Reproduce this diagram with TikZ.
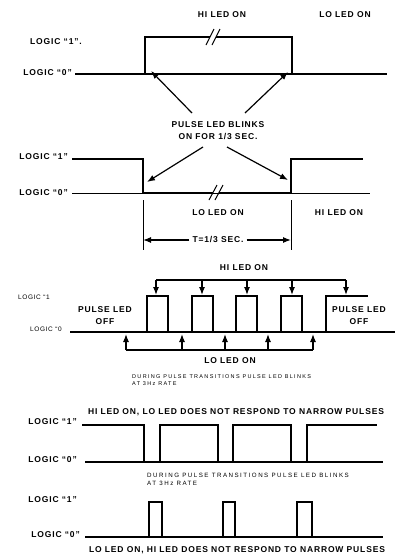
\documentclass[tikz,border=0pt]{standalone}
\usepackage{fontspec}
\newfontfamily\capfont{Liberation Sans}[LetterSpace=10]
\newfontfamily\notefont{Liberation Sans}[LetterSpace=24]
\usetikzlibrary{arrows.meta}
\tikzset{
  lbl/.style={font=\capfont\bfseries\fontsize{8.5}{12}\selectfont,inner sep=0pt,align=center},
  faint/.style={font=\capfont\fontsize{6.5}{8}\selectfont,inner sep=0pt},
  note/.style={font=\notefont\fontsize{5.5}{7.5}\selectfont,inner sep=0pt,align=left},
  wave/.style={line width=1.5pt},
  base/.style={line width=0.7pt},
  ext/.style={line width=0.7pt},
  brk/.style={line width=1pt},
  bracket/.style={line width=1.1pt},
  arrow/.style={-{Latex[length=8pt,width=6pt]},line width=1.2pt}
}
\begin{document}
\begin{tikzpicture}[x=1pt,y=-1pt]
\useasboundingbox (0,0) rectangle (403,557);
% first trace: single long pulse high
\node[lbl] (hi1) at (222,15) {HI LED ON};
\node[lbl] (lo1) at (345,15) {LO LED ON};
\node[lbl,anchor=east] (one1) at (82,42) {LOGIC “1”.};
\node[lbl,anchor=east] (zero1) at (72,73) {LOGIC “0”};
\draw[wave] (75,74) -- (387,74);
\draw[wave] (145,74) -- (145,37) -- (210,37);
\draw[wave] (216,37) -- (292,37) -- (292,74);
\draw[brk] (206,45) -- (214,29) (212,45) -- (220,29);
\coordinate (rise1) at (151,71);
\coordinate (fall1) at (288,72);
\node[lbl] (blink) at (218,131) {PULSE LED BLINKS\\ON FOR 1/3 SEC.};
\coordinate (blinkup1) at (192,113);
\coordinate (blinkup2) at (245,113);
\coordinate (blinkdn1) at (203,147);
\coordinate (blinkdn2) at (227,147);
\draw[arrow] (blinkup1) -- (rise1);
\draw[arrow] (blinkup2) -- (fall1);
% second trace: single long pulse low
\node[lbl,anchor=east] (one2) at (68,157) {LOGIC “1”};
\node[lbl,anchor=east] (zero2) at (68,193) {LOGIC “0”};
\draw[base] (72,193) -- (370,193);
\draw[wave] (72,159) -- (143,159) -- (143,193) -- (213,193);
\draw[wave] (219,193) -- (291,193) -- (291,159) -- (363,159);
\draw[brk] (209,200) -- (217,185) (215,200) -- (223,185);
\coordinate (fall2) at (147,182);
\coordinate (rise2) at (288,180);
\draw[arrow] (blinkdn1) -- (fall2);
\draw[arrow] (blinkdn2) -- (rise2);
\draw[ext] (143,200) -- (143,250);
\draw[ext] (291,200) -- (291,250);
\node[lbl] (lo2) at (218,213) {LO LED ON};
\node[lbl] (hi2) at (339,213) {HI LED ON};
\coordinate (tleft) at (143,240);
\coordinate (tright) at (291,240);
\node[lbl,inner xsep=3pt] (period) at (218,240) {T=1/3 SEC.};
\draw[arrow] (period) -- (tleft);
\draw[arrow] (period) -- (tright);
% third trace: pulse train
\node[lbl] (hi3) at (244,268) {HI LED ON};
\draw[bracket] (156,280) -- (346,280);
\foreach \x in {156,202,247,292,346}
  \draw[arrow] (\x,280) -- (\x,295);
\node[faint,anchor=east] (one3) at (50,297) {LOGIC “1};
\node[faint,anchor=east] (zero3) at (62,329) {LOGIC “0};
\draw[wave] (70,332) -- (395,332);
\foreach \a/\b in {147/168,192/213,236/257,281/302}
  \draw[wave] (\a,332) -- (\a,296) -- (\b,296) -- (\b,332);
\draw[wave] (326,332) -- (326,296) -- (368,296);
\node[lbl] (off1) at (105,316) {PULSE LED\\OFF};
\node[lbl] (off2) at (359,316) {PULSE LED\\OFF};
\draw[bracket] (126,350) -- (313,350);
\foreach \x in {126,182,225,268,313}
  \draw[arrow] (\x,350) -- (\x,334);
\node[lbl] (lo3) at (230,361) {LO LED ON};
\node[note,anchor=north west] (rate3) at (132,374) {DURING PULSE TRANSITIONS PULSE LED BLINKS\\AT 3Hz RATE};
% fourth trace: narrow low pulses
\node[lbl] (head4) at (236,412) {HI LED ON, LO LED DOES NOT RESPOND TO NARROW PULSES};
\node[lbl,anchor=east] (one4) at (77,422) {LOGIC “1”};
\node[lbl,anchor=east] (zero4) at (77,460) {LOGIC “0”};
\draw[wave] (85,462) -- (383,462);
\draw[wave] (82,425) -- (144,425) -- (144,462) -- (160,462) -- (160,425)
  -- (218,425) -- (218,462) -- (233,462) -- (233,425)
  -- (291,425) -- (291,462) -- (307,462) -- (307,425) -- (377,425);
\node[note,anchor=north west,font=\notefont\fontsize{6.2}{8}\selectfont] (rate4) at (147,473) {DURING PULSE TRANSITIONS PULSE LED BLINKS\\AT 3Hz RATE};
% fifth trace: narrow high pulses
\node[lbl,anchor=east] (one5) at (77,500) {LOGIC “1”};
\node[lbl,anchor=east] (zero5) at (80,535) {LOGIC “0”};
\draw[wave] (85,537) -- (383,537);
\foreach \a/\b in {149/162,223/235,297/312}
  \draw[wave] (\a,537) -- (\a,502) -- (\b,502) -- (\b,537);
\node[lbl] (foot5) at (237,550) {LO LED ON, HI LED DOES NOT RESPOND TO NARROW PULSES};
\end{tikzpicture}
\end{document}
